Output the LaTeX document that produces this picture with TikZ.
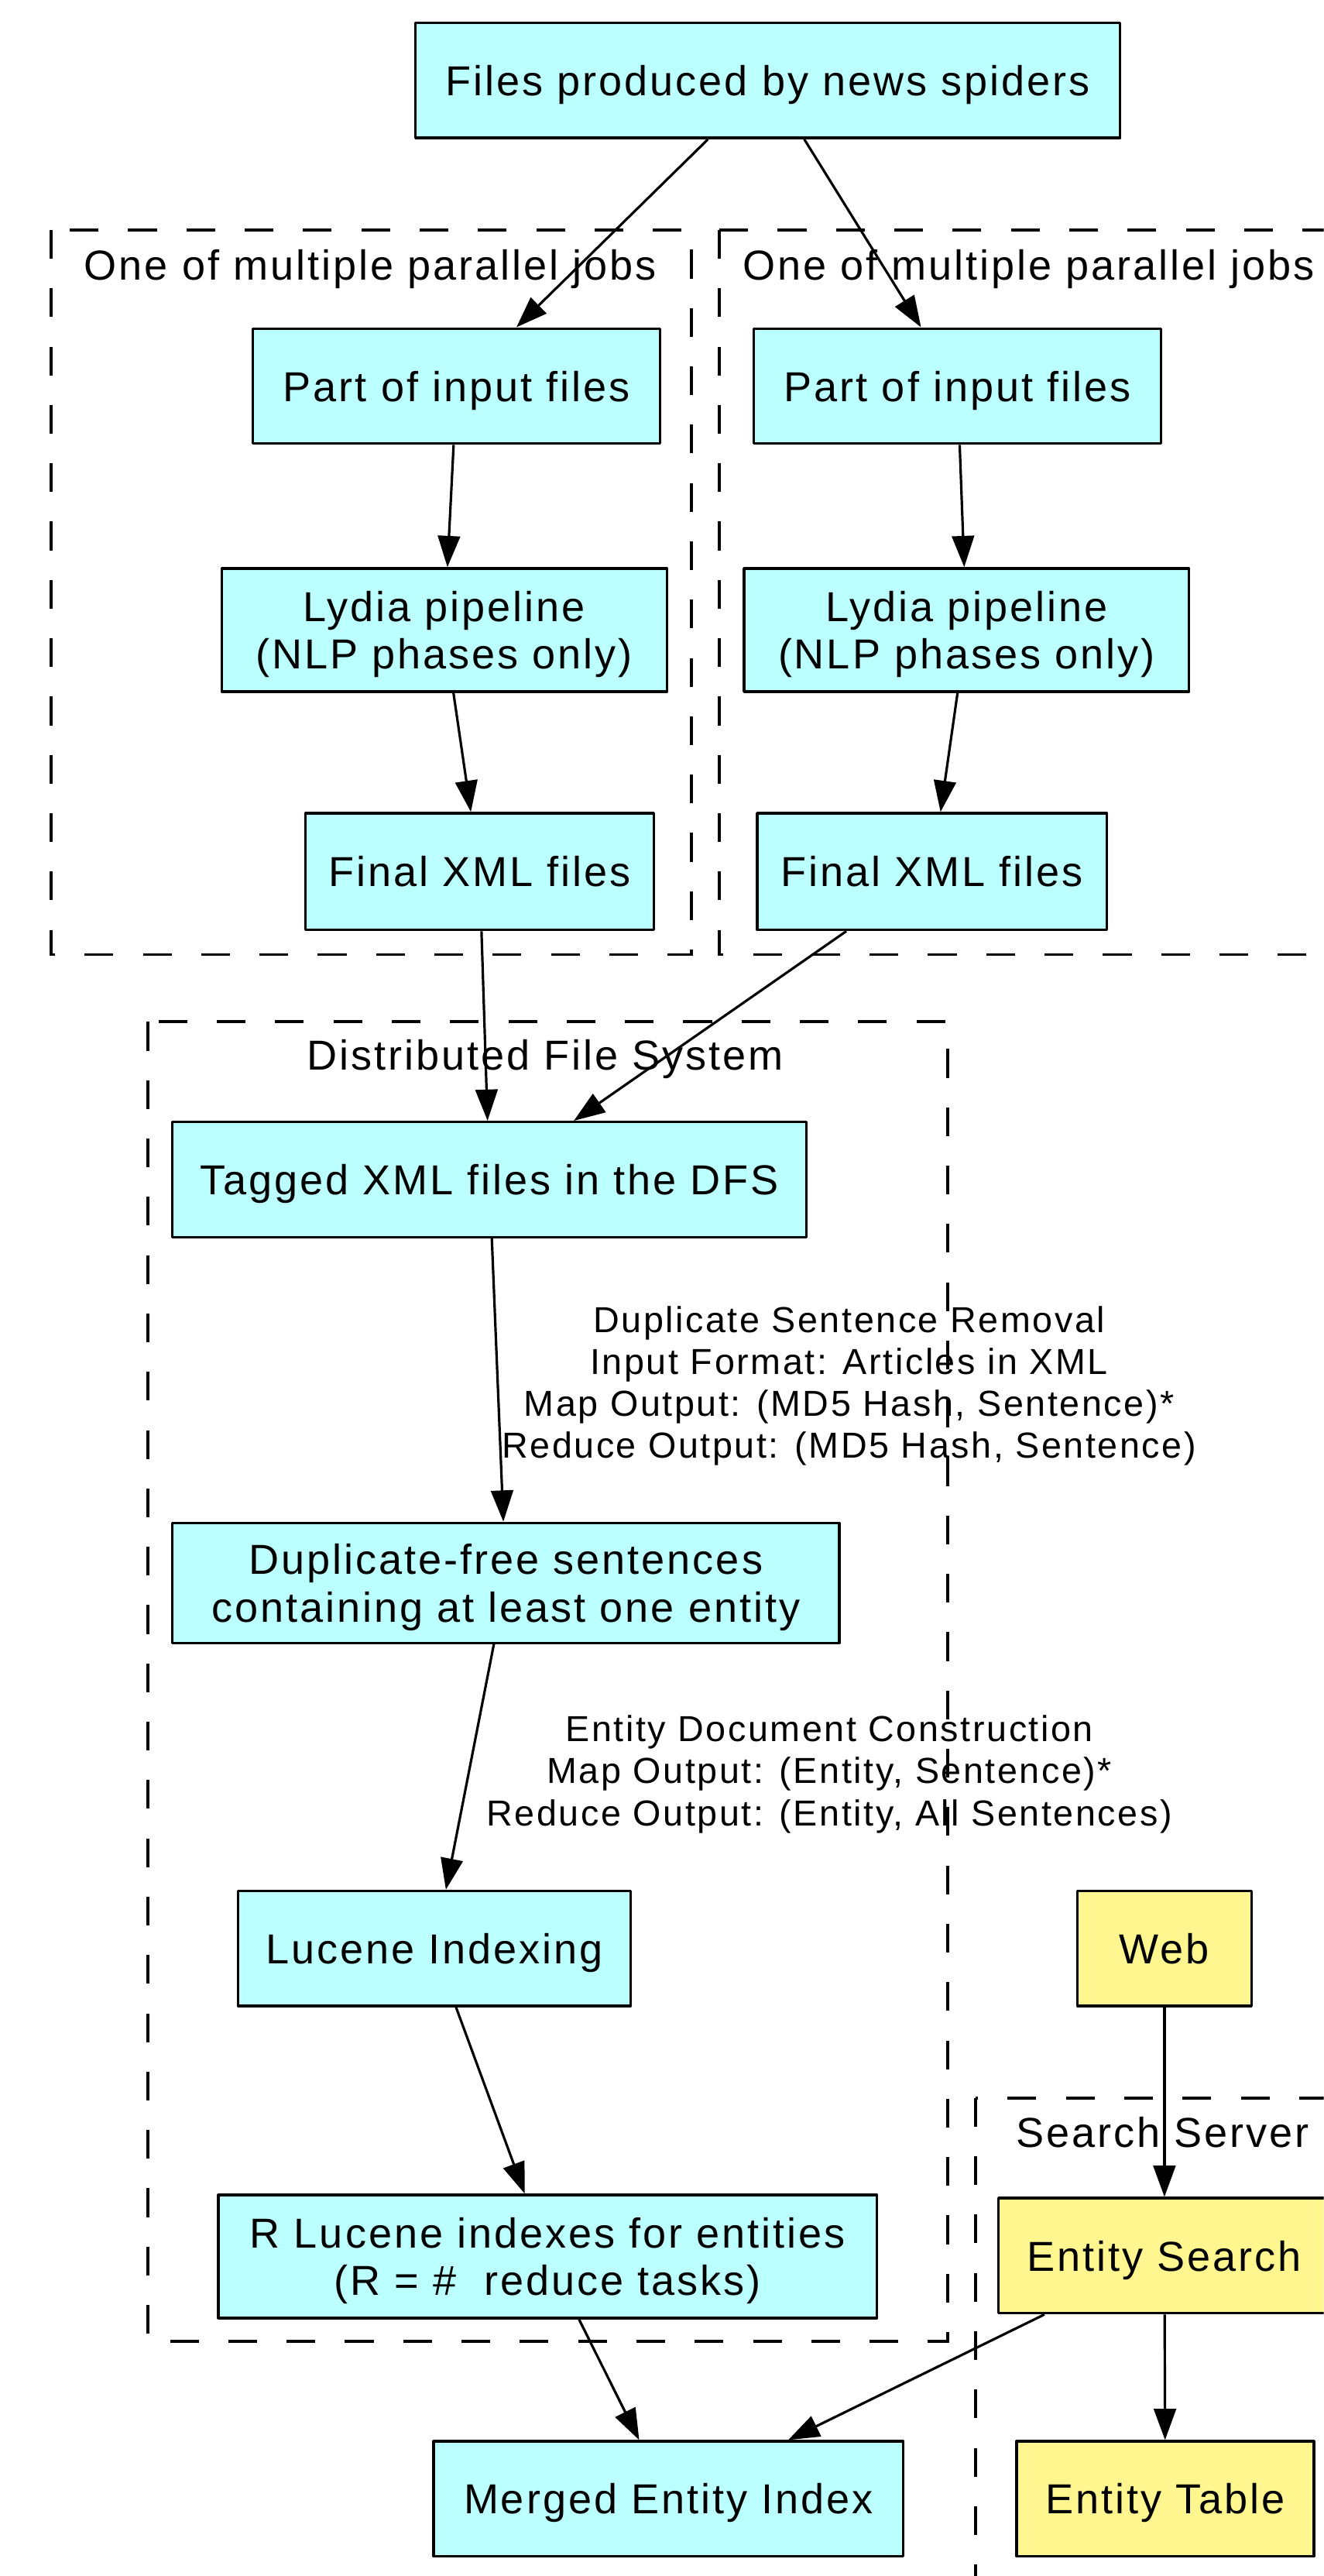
\documentclass[tikz,border=0pt]{standalone}
\usepackage{fontspec}
\setmainfont{Liberation Sans}[LetterSpace=5.5]
\usetikzlibrary{arrows.meta}
\definecolor{cyanfill}{HTML}{BBFFFF}
\definecolor{yelfill}{HTML}{FFF68F}
\begin{document}
\begin{tikzpicture}[x=1pt,y=-1pt,
  box/.style={draw, line width=1.6pt, line join=round, fill=cyanfill, inner sep=0pt,
    align=center, text depth=0pt, font=\fontsize{25.5}{29}\selectfont},
  ybox/.style={box, fill=yelfill},
  cluster/.style={draw, line width=1.8pt, dash pattern=on 17.5pt off 18pt},
  clabel/.style={inner sep=0pt, text depth=0pt, font=\fontsize{25.5}{29}\selectfont},
  elabel/.style={inner sep=0pt, align=center, font=\fontsize{22}{25.5}\selectfont},
  arr/.style={draw, line width=1.5pt, -{Triangle[length=19pt,width=13.5pt]}}
]
\useasboundingbox (0,0) rectangle (806,1568);
\clip (0,0) rectangle (806,1568);
\fill[white] (0,0) rectangle (806,1568);

% clusters
\draw[cluster] (31,140) rectangle (421,581);
\draw[cluster] (438,140) rectangle (840,581);
\draw[cluster] (90,622) rectangle (577,1425);
\draw[cluster] (594,1277) rectangle (822,1600);

\node[clabel] (cl1) at (225.5,161) {One of multiple parallel jobs};
\node[clabel, anchor=west] (cl2) at (452,161) {One of multiple parallel jobs};
\node[clabel] (cl3) at (332,642) {Distributed File System};
\node[clabel] (cl4) at (708,1298) {Search Server};

% nodes
\node[box, minimum width=429, minimum height=70] (files) at (467.5,49) {Files produced by news spiders};
\node[box, minimum width=248, minimum height=70] (lpart) at (278,235) {Part of input files};
\node[box, minimum width=248, minimum height=70] (rpart) at (583,235) {Part of input files};
\node[box, minimum width=271, minimum height=75] (llydia) at (270.5,383.5) {Lydia pipeline\\(NLP phases only)};
\node[box, minimum width=271, minimum height=75] (rlydia) at (588.5,383.5) {Lydia pipeline\\(NLP phases only)};
\node[box, minimum width=212, minimum height=71] (lfinal) at (292,530.5) {Final XML files};
\node[box, minimum width=213, minimum height=71] (rfinal) at (567.5,530.5) {Final XML files};
\node[box, minimum width=386, minimum height=70] (tagged) at (298,718) {Tagged XML files in the DFS};
\node[box, minimum width=406, minimum height=73] (dupfree) at (308,963.5) {Duplicate-free sentences\\containing at least one entity};
\node[box, minimum width=239, minimum height=70] (lucene) at (264.5,1186) {Lucene Indexing};
\node[box, minimum width=401, minimum height=75] (rlucene) at (333.5,1373.5) {R Lucene indexes for entities\\(R = \#\ \ reduce tasks)};
\node[box, minimum width=286, minimum height=70] (merged) at (407,1521) {Merged Entity Index};
\node[ybox, minimum width=106, minimum height=70] (web) at (709,1186) {Web};
\node[ybox, minimum width=202, minimum height=70] (esearch) at (709,1373) {Entity Search};
\node[ybox, minimum width=181, minimum height=70] (etable) at (709.5,1521) {Entity Table};

% edge labels
\node[elabel] (lab1) at (517,843.5) {Duplicate Sentence Removal\\Input Format: Articles in XML\\Map Output: (MD5 Hash, Sentence)*\\Reduce Output: (MD5 Hash, Sentence)};
\node[elabel] (lab2) at (505,1080) {Entity Document Construction\\Map Output: (Entity, Sentence)*\\Reduce Output: (Entity, All Sentences)};

% edges
\draw[arr] (files) -- (lpart);
\draw[arr] (files) -- (rpart);
\draw[arr] (lpart) -- (llydia);
\draw[arr] (rpart) -- (rlydia);
\draw[arr] (llydia) -- (lfinal);
\draw[arr] (rlydia) -- (rfinal);
\draw[arr] (lfinal) -- (tagged);
\draw[arr] (rfinal) -- (tagged);
\draw[arr] (tagged) -- (dupfree);
\draw[arr] (dupfree) -- (lucene);
\draw[arr] (lucene) -- (rlucene);
\draw[arr] (rlucene) -- (merged);
\draw[arr] (esearch) -- (merged);
\draw[arr] (web) -- (esearch);
\draw[arr] (esearch) -- (etable);
\end{tikzpicture}
\end{document}
